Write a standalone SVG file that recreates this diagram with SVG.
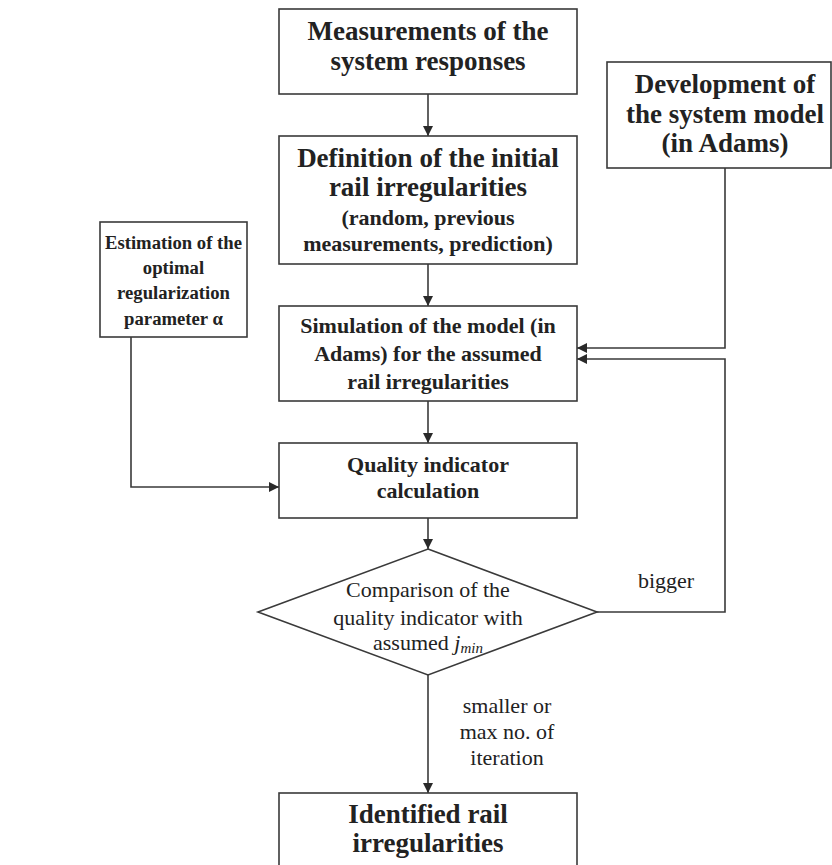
<svg xmlns="http://www.w3.org/2000/svg" width="832" height="865" viewBox="0 0 832 865">
<style>
.box{fill:#fff;stroke:#3a3a3a;stroke-width:1.6}
.ln{fill:none;stroke:#3a3a3a;stroke-width:1.6}
text{font-family:"Liberation Serif","Times New Roman",serif;fill:#222;text-anchor:middle}
.b27{font-size:27px;font-weight:bold}
.b22{font-size:22px;font-weight:bold}
.b19{font-size:18.7px;font-weight:bold}
.r22{font-size:22px}
</style>
<defs>
<marker id="ah" viewBox="0 0 10 10" refX="10" refY="5" markerWidth="10" markerHeight="10" markerUnits="userSpaceOnUse" orient="auto">
<path d="M0,0 L10,5 L0,10 z" fill="#2a2a2a"/>
</marker>
</defs>
<g id="connectors">
<line class="ln" x1="428" y1="94" x2="428" y2="136" marker-end="url(#ah)"/>
<line class="ln" x1="428" y1="264" x2="428" y2="306" marker-end="url(#ah)"/>
<line class="ln" x1="428" y1="401" x2="428" y2="443" marker-end="url(#ah)"/>
<line class="ln" x1="428" y1="518" x2="428" y2="549" marker-end="url(#ah)"/>
<line class="ln" x1="428" y1="675" x2="428" y2="793" marker-end="url(#ah)"/>
<polyline class="ln" points="725,168 725,348 577,348" marker-end="url(#ah)"/>
<polyline class="ln" points="597,612 725,612 725,359 577,359" marker-end="url(#ah)"/>
<polyline class="ln" points="131,337 131,487 279,487" marker-end="url(#ah)"/>
<text class="r22" x="666" y="588">bigger</text>
<text class="r22" x="507" y="713">smaller or</text>
<text class="r22" x="507" y="739">max no. of</text>
<text class="r22" x="507" y="765">iteration</text>
</g>
<g id="measurements">
<rect class="box" x="279" y="9" width="298" height="85"/>
<text class="b27" x="428" y="40">Measurements of the</text>
<text class="b27" x="428" y="70">system responses</text>
</g>
<g id="definition">
<rect class="box" x="279" y="136" width="298" height="128"/>
<text class="b27" x="428" y="167">Definition of the initial</text>
<text class="b27" x="428" y="196">rail irregularities</text>
<text class="b22" x="428" y="225">(random, previous</text>
<text class="b22" x="428" y="251">measurements, prediction)</text>
</g>
<g id="development">
<rect class="box" x="607" y="62" width="224" height="106"/>
<text class="b27" x="725" y="93">Development of</text>
<text class="b27" x="725" y="123">the system model</text>
<text class="b27" x="725" y="152">(in Adams)</text>
</g>
<g id="estimation">
<rect class="box" x="100" y="222" width="147" height="115"/>
<text class="b19" x="173.5" y="249">Estimation of the</text>
<text class="b19" x="173.5" y="274">optimal</text>
<text class="b19" x="173.5" y="299">regularization</text>
<text class="b19" x="173.5" y="325">parameter α</text>
</g>
<g id="simulation">
<rect class="box" x="279" y="306" width="298" height="95"/>
<text class="b22" x="428" y="333">Simulation of the model (in</text>
<text class="b22" x="428" y="361">Adams) for the assumed</text>
<text class="b22" x="428" y="389">rail irregularities</text>
</g>
<g id="quality">
<rect class="box" x="279" y="443" width="298" height="75"/>
<text class="b22" x="428" y="472">Quality indicator</text>
<text class="b22" x="428" y="498">calculation</text>
</g>
<g id="comparison">
<polygon class="box" points="428,549 597,612 428,675 258,612"/>
<text class="r22" x="428" y="597">Comparison of the</text>
<text class="r22" x="428" y="625">quality indicator with</text>
<text class="r22" x="428" y="650">assumed <tspan font-style="italic">j</tspan><tspan font-style="italic" font-size="15px" dy="3">min</tspan></text>
</g>
<g id="identified">
<rect class="box" x="279" y="793" width="298" height="80"/>
<text class="b27" x="428" y="823">Identified rail</text>
<text class="b27" x="428" y="852">irregularities</text>
</g>
</svg>
